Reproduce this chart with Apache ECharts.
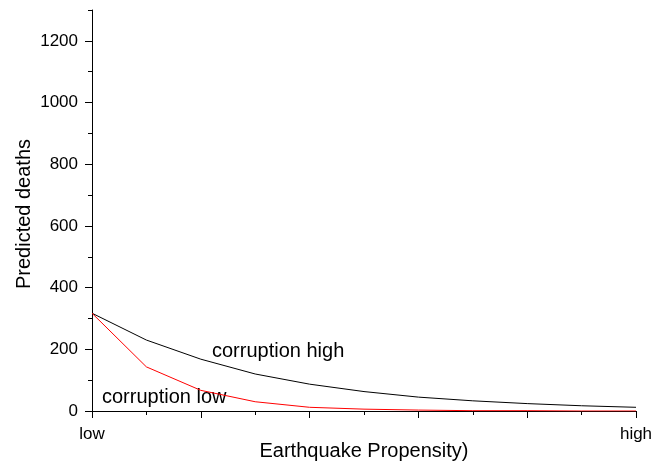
<!DOCTYPE html>
<html>
<head>
<meta charset="utf-8">
<script src="https://cdn.jsdelivr.net/npm/echarts@6/dist/echarts.min.js"></script>
<style>
  html, body { margin: 0; padding: 0; background: #fff; }
  #chart { width: 664px; height: 461px; }
</style>
</head>
<body>
<div id="chart"></div>
<script>
// propensity steps, low -> high
const steps = [0, 1, 2, 3, 4, 5, 6, 7, 8, 9, 10];
const xLabels = { 0: "low", 10: "high" };
const xMajor = [0, 2, 4, 6, 8, 10];
const yMajor = [0, 200, 400, 600, 800, 1000, 1200];

// predicted deaths
const corruptionHigh = [317, 230, 168, 120, 87, 63, 45, 33, 24, 17, 12];
const corruptionLow = [317, 143, 67, 30, 12, 6, 3, 1, 1, 0, 0];

const font = "Liberation Sans, Arial, sans-serif";

const chart = echarts.init(document.getElementById("chart"));

chart.setOption({
  animation: false,
  grid: { left: 92, right: 28, top: 10, bottom: 50, outerBoundsMode: "none", containLabel: false },
  xAxis: [
    {
      // short ticks, carries the data
      type: "value", min: 0, max: 10, interval: 1,
      axisLine: { lineStyle: { color: "#000", width: 1 } },
      axisTick: { inside: false, length: 4, lineStyle: { color: "#000" } },
      axisLabel: { show: false },
      splitLine: { show: false },
      name: "Earthquake Propensity)",
      nameLocation: "middle",
      nameGap: 30,
      nameTextStyle: { color: "#000", fontSize: 20, fontFamily: font }
    },
    {
      // long ticks with the end labels
      type: "value", min: 0, max: 10, position: "bottom",
      axisLine: { show: false },
      axisTick: { length: 7, customValues: xMajor, lineStyle: { color: "#000" } },
      axisLabel: {
        customValues: [0, 10], margin: 15,
        color: "#000", fontSize: 17, fontFamily: font,
        formatter: v => xLabels[v] || ""
      },
      splitLine: { show: false }
    }
  ],
  yAxis: [
    {
      type: "value", min: 0, max: 1300, interval: 100,
      axisLine: { show: true, lineStyle: { color: "#000", width: 1 } },
      axisTick: { show: true, length: 4, lineStyle: { color: "#000" } },
      axisLabel: { show: false },
      splitLine: { show: false },
      name: "Predicted deaths",
      nameLocation: "middle",
      nameGap: 58,
      nameTextStyle: { color: "#000", fontSize: 20, fontFamily: font, padding: [0, 7, 0, 0] }
    },
    {
      type: "value", min: 0, max: 1300, position: "left",
      axisLine: { show: false },
      axisTick: { show: true, length: 7, customValues: yMajor, lineStyle: { color: "#000" } },
      axisLabel: {
        customValues: yMajor, margin: 14,
        color: "#000", fontSize: 17, fontFamily: font,
        formatter: v => String(v)
      },
      splitLine: { show: false }
    }
  ],
  series: [
    {
      name: "corruption high", type: "line",
      data: steps.map((s, i) => [s, corruptionHigh[i]]),
      symbol: "none",
      lineStyle: { color: "#000", width: 1 }
    },
    {
      name: "corruption low", type: "line",
      data: steps.map((s, i) => [s, corruptionLow[i]]),
      symbol: "none",
      lineStyle: { color: "#ff0000", width: 1 }
    }
  ],
  graphic: [
    {
      type: "text", left: 212, top: 341,
      style: { text: "corruption high", fill: "#000", font: "20px " + font }
    },
    {
      type: "text", left: 102, top: 387,
      style: { text: "corruption low", fill: "#000", font: "20px " + font }
    }
  ]
});
</script>
</body>
</html>
